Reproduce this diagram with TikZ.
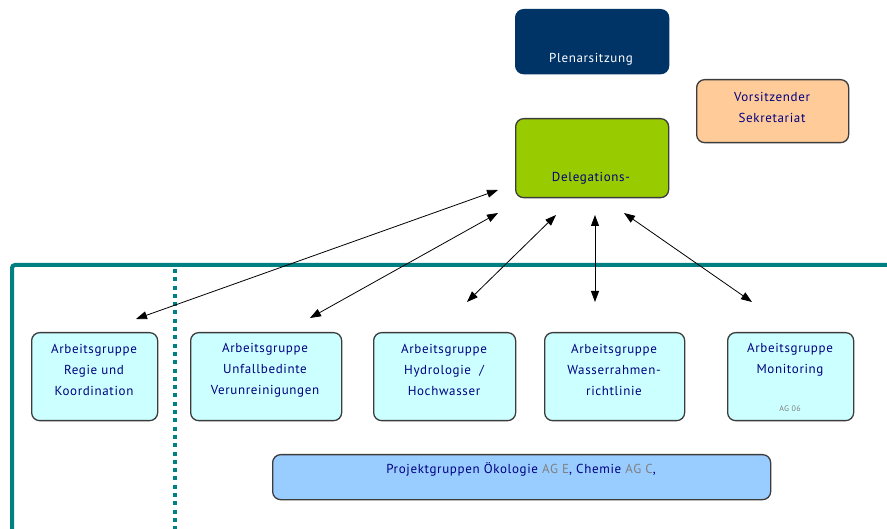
\documentclass[tikz,border=0pt]{standalone}
\usepackage{fontspec}
\setmainfont{PT Sans}[LetterSpace=5]
\usetikzlibrary{arrows.meta}
\definecolor{navybox}{RGB}{0,51,102}
\definecolor{txtblue}{RGB}{0,0,128}
\definecolor{greenbox}{RGB}{153,204,0}
\definecolor{peachbox}{RGB}{255,204,153}
\definecolor{cyanbox}{RGB}{204,255,255}
\definecolor{bluebox}{RGB}{153,204,255}
\definecolor{teal}{RGB}{0,128,128}
\definecolor{boxborder}{RGB}{60,60,60}
\definecolor{agray}{RGB}{128,128,128}
\begin{document}
\begin{tikzpicture}[x=1pt,y=-1pt,
  boxstyle/.style={draw=boxborder, line width=1.3pt, rounded corners=8pt, inner sep=0pt, anchor=north west},
  txt/.style={font=\fontsize{13}{21}\selectfont, text=txtblue, align=center, inner sep=0pt},
  link/.style={line width=0.8pt, {Triangle[length=11pt,width=8pt]}-{Triangle[length=11pt,width=8pt]}}
]
\useasboundingbox (0,0) rectangle (887,529);
\fill[white] (0,0) rectangle (887,529);

% frame
\draw[teal, line width=4pt, rounded corners=3pt] (12,535) -- (12,265) -- (895,265);
\draw[teal, line width=4pt, dash pattern=on 4pt off 4.3pt] (175,269) -- (175,535);

% top boxes
\node[boxstyle, draw=navybox, fill=navybox, minimum width=153pt, minimum height=64pt] (plen) at (515,9) {};
\node[boxstyle, fill=peachbox, minimum width=152pt, minimum height=63pt] (vors) at (696,79) {};
\node[boxstyle, fill=greenbox, minimum width=153pt, minimum height=79pt] (deleg) at (515,118) {};

\node[txt, text=white] (plent) at (591,59) {Plenarsitzung};
\node[txt] (vorst) at (772,107) {Vorsitzender\\Sekretariat};
\node[txt] (delegt) at (591,178) {Delegations-};

% working groups
\node[boxstyle, fill=cyanbox, minimum width=126pt, minimum height=88pt] (ag1) at (31,332) {};
\node[boxstyle, fill=cyanbox, minimum width=151pt, minimum height=88pt] (ag2) at (190,332) {};
\node[boxstyle, fill=cyanbox, minimum width=142pt, minimum height=88pt] (ag3) at (373,332) {};
\node[boxstyle, fill=cyanbox, minimum width=140pt, minimum height=88pt] (ag4) at (544,332) {};
\node[boxstyle, fill=cyanbox, minimum width=126pt, minimum height=88pt] (ag5) at (727,332) {};
\node[boxstyle, fill=bluebox, minimum width=498pt, minimum height=45pt] (proj) at (272,454) {};

\node[txt] (ag1t) at (94,370) {Arbeitsgruppe\\Regie und\\Koordination};
\node[txt] (ag2t) at (265,370) {Arbeitsgruppe\\Unfallbedinte\\Verunreinigungen};
\node[txt] (ag3t) at (444,370) {Arbeitsgruppe\\Hydrologie\ \ /\\Hochwasser};
\node[txt] (ag4t) at (614,370) {Arbeitsgruppe\\Wasserrahmen-\\richtlinie};
\node[txt] (ag5t) at (790,360) {Arbeitsgruppe\\Monitoring};
\node[txt, font=\fontsize{8}{10}\selectfont, text=agray] (ag5n) at (790,409) {AG 06};
\node[txt] (projt) at (521,469) {Projektgruppen Ökologie \textcolor{agray}{AG E}, Chemie \textcolor{agray}{AG C},};

% connectors
\coordinate (a1t) at (498,190); \coordinate (a1b) at (136,319);
\coordinate (a2t) at (498,213); \coordinate (a2b) at (310,318);
\coordinate (a3t) at (556,215); \coordinate (a3b) at (467,302);
\coordinate (a4t) at (595,215); \coordinate (a4b) at (595,302);
\coordinate (a5t) at (624,213); \coordinate (a5b) at (752,302);
\draw[link] (a1t) -- (a1b);
\draw[link] (a2t) -- (a2b);
\draw[link] (a3t) -- (a3b);
\draw[link] (a4t) -- (a4b);
\draw[link] (a5t) -- (a5b);
\end{tikzpicture}
\end{document}
